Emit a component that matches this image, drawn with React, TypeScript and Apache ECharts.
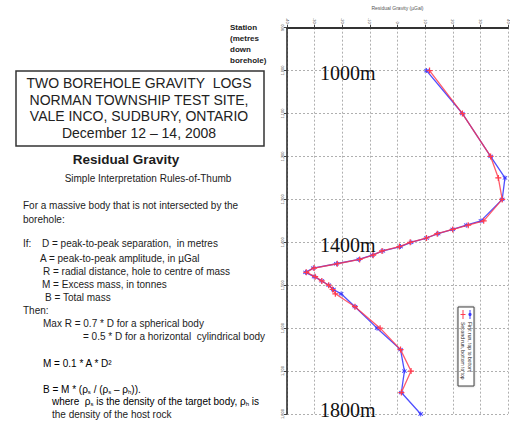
import React, { useEffect, useRef } from "react";
import * as echarts from "echarts";

// Borehole stations (metres down hole) and residual gravity readings (µGal)
const depths = [
  1000, 1100, 1200, 1250, 1300, 1350, 1360, 1370, 1380, 1390, 1400, 1410, 1420,
  1430, 1440, 1450, 1460, 1470, 1480, 1490, 1500, 1510, 1520, 1550, 1600, 1650,
  1700, 1750, 1800,
];
const firstRun = [
  10.5, 23.5, 33.7, 38.9, 37.9, 30.2, 24.9, 20.0, 14.7, 10.5, 4.9, 1.1, -5.3,
  -9.1, -14.0, -22.1, -30.5, -33.3, -30.2, -27.4, -24.9, -23.2, -20.4, -15.4,
  -7.4, 1.1, 2.5, 1.4, 8.4,
];
const secondRun: (number | null)[] = [
  11.6, 23.5, 33.7, 36.5, 37.9, 31.2, 25.6, 20.0, 14.4, 10.5, 4.6, 0.7, -5.6,
  -8.8, -13.7, -21.8, -30.2, -33.0, -29.8, -27.4, -24.9, -23.5, -22.5, -15.4,
  -6.3, 1.1, 4.9, 1.4, null,
];
const seriesNames = ["First run, top to bottom", "Second run, bottom to top"];

const depthMin = 900;
const depthMax = 1800;
const depthStep = 100;
const gravityMin = -40;
const gravityMax = 40;
const gravityStep = 10;

const depthMarks = ["1000m", "1400m", "1800m"];

const titleLines = [
  "TWO BOREHOLE GRAVITY  LOGS",
  "NORMAN TOWNSHIP TEST SITE,",
  "VALE INCO, SUDBURY, ONTARIO",
  "December 12 – 14, 2008",
];
const stationLabel = ["Station", "(metres", "down", "borehole)"];

const PLUS = "path://M4,0H6V4H10V6H6V10H4V6H0V4H4Z";
const STAR =
  "path://M4.2,0H5.8V3.4L8.6,1.2L9.6,2.4L6.8,5L9.6,7.6L8.6,8.8L5.8,6.6V10H4.2V6.6L1.4,8.8L0.4,7.6L3.2,5L0.4,2.4L1.4,1.2L4.2,3.4Z";

const SANS = '"Liberation Sans", Arial, sans-serif';
const SERIF = '"Liberation Serif", "Times New Roman", serif';
const INK = "#1c1c1c";

function bodyText(text: string, x: number, y: number, size = 10) {
  return {
    type: "text",
    x,
    y,
    silent: true,
    style: {
      text,
      fill: INK,
      font: `${size}px ${SANS}`,
      textAlign: "left",
      textVerticalAlign: "middle",
    },
  };
}

export default function App() {
  const ref = useRef<HTMLDivElement>(null);

  useEffect(() => {
    if (!ref.current) return;
    const chart = echarts.init(ref.current, null, { renderer: "svg" });

    const blueData = depths.map((d, i) => [firstRun[i], d]);
    const redData = depths
      .map((d, i) => [secondRun[i], d])
      .filter((p) => p[0] !== null);

    const titleGraphics = titleLines.map((t, i) => ({
      type: "text",
      x: 139,
      y: 83 + i * 16.7,
      silent: true,
      style: {
        text: t,
        fill: "#222",
        font: `14px ${SANS}`,
        textAlign: "center",
        textVerticalAlign: "middle",
      },
    }));

    const stationGraphics = stationLabel.map((t, i) => ({
      type: "text",
      x: 230,
      y: 27 + i * 11,
      silent: true,
      style: {
        text: t,
        fill: "#222",
        font: `bold 8px ${SANS}`,
        textAlign: "left",
        textVerticalAlign: "middle",
      },
    }));

    const markYs = [73, 245, 410];
    const depthGraphics = depthMarks.map((t, i) => ({
      type: "text",
      x: 320,
      y: markYs[i],
      silent: true,
      z: 100,
      style: {
        text: t,
        fill: "#111",
        font: `20px ${SERIF}`,
        textAlign: "left",
        textVerticalAlign: "middle",
      },
    }));

    const rich = {
      n: { fontSize: 10, fontFamily: SANS, color: INK },
      s: { fontSize: 6, fontFamily: SANS, color: INK, padding: [5, 0, 0, 0] },
    };

    const legendGraphic = {
      type: "group",
      z: 100,
      children: [
        {
          type: "rect",
          shape: { x: 458, y: 307, width: 16, height: 79 },
          style: { fill: "#fff", stroke: "#444", lineWidth: 1, shadowBlur: 2, shadowColor: "rgba(0,0,0,0.3)" },
        },
        {
          type: "line",
          shape: { x1: 463, y1: 310, x2: 463, y2: 319 },
          style: { stroke: "#ff3b4e", lineWidth: 1 },
        },
        {
          type: "line",
          shape: { x1: 460.5, y1: 314.5, x2: 465.5, y2: 314.5 },
          style: { stroke: "#ff3b4e", lineWidth: 1 },
        },
        {
          type: "line",
          shape: { x1: 470, y1: 310, x2: 470, y2: 319 },
          style: { stroke: "#3c3cff", lineWidth: 1 },
        },
        {
          type: "circle",
          shape: { cx: 470, cy: 314.5, r: 1.6 },
          style: { fill: "#3c3cff" },
        },
        {
          type: "text",
          x: 463,
          y: 322,
          rotation: -Math.PI / 2,
          style: {
            text: seriesNames[1],
            fill: "#222",
            font: `5px ${SANS}`,
            textAlign: "left",
            textVerticalAlign: "middle",
          },
        },
        {
          type: "text",
          x: 470,
          y: 322,
          rotation: -Math.PI / 2,
          style: {
            text: seriesNames[0],
            fill: "#222",
            font: `5px ${SANS}`,
            textAlign: "left",
            textVerticalAlign: "middle",
          },
        },
      ],
    };

    chart.setOption({
      animation: false,
      backgroundColor: "#fff",
      textStyle: { fontFamily: SANS },
      grid: { left: 287, top: 26, width: 228, height: 392 },
      xAxis: {
        type: "value",
        position: "top",
        min: gravityMin,
        max: gravityMax,
        interval: gravityStep,
        name: "Residual Gravity (µGal)",
        nameLocation: "middle",
        nameGap: 17,
        nameTextStyle: { fontSize: 5, color: "#555" },
        axisLine: { show: true, onZero: false, lineStyle: { color: "#333", width: 2 } },
        axisTick: { show: true, length: 3, lineStyle: { color: "#444" } },
        axisLabel: { fontSize: 4, rotate: 90, margin: 4, color: "#444" },
        splitLine: { show: true, lineStyle: { type: [2, 2], color: "#9a9a9a", width: 0.8 } },
      },
      yAxis: {
        type: "value",
        inverse: true,
        min: depthMin,
        max: depthMax,
        interval: depthStep,
        axisLine: { show: true, onZero: false, lineStyle: { color: "#222", width: 1.5 } },
        axisTick: { show: true, length: 3, lineStyle: { color: "#444" } },
        axisLabel: { fontSize: 4, rotate: 90, margin: 3, color: "#444" },
        splitLine: { show: true, lineStyle: { type: [2, 2], color: "#9a9a9a", width: 0.8 } },
      },
      series: [
        {
          type: "line",
          name: seriesNames[0],
          data: blueData,
          symbol: STAR,
          symbolSize: 5,
          itemStyle: { color: "#3c3cff" },
          lineStyle: { color: "rgba(60,60,255,0.9)", width: 1.3 },
          z: 2,
        },
        {
          type: "line",
          name: seriesNames[1],
          data: redData,
          symbol: PLUS,
          symbolSize: 6,
          itemStyle: { color: "#ff3b4e" },
          lineStyle: { color: "rgba(255,50,70,0.8)", width: 1.3 },
          z: 3,
        },
      ],
      graphic: [
        {
          type: "rect",
          silent: true,
          shape: { x: 16, y: 71, width: 248, height: 75 },
          style: { fill: "none", stroke: "#333", lineWidth: 1.5 },
        },
        ...titleGraphics,
        ...stationGraphics,
        ...depthGraphics,
        {
          type: "text",
          x: 126,
          y: 159,
          silent: true,
          style: {
            text: "Residual Gravity",
            fill: INK,
            font: `bold 13.5px ${SANS}`,
            textAlign: "center",
            textVerticalAlign: "middle",
          },
        },
        {
          type: "text",
          x: 148,
          y: 178,
          silent: true,
          style: {
            text: "Simple Interpretation Rules-of-Thumb",
            fill: INK,
            font: `10px ${SANS}`,
            textAlign: "center",
            textVerticalAlign: "middle",
          },
        },
        bodyText("For a massive body that is not intersected by the", 23, 205),
        bodyText("borehole:", 23, 219),
        bodyText("If:", 23, 243),
        bodyText("D = peak-to-peak separation,  in metres", 42, 243),
        bodyText("A = peak-to-peak amplitude, in µGal", 40, 258),
        bodyText("R = radial distance, hole to centre of mass", 43, 271),
        bodyText("M = Excess mass, in tonnes", 42, 284),
        bodyText("B = Total mass", 45, 297),
        bodyText("Then:", 23, 310),
        bodyText("Max R = 0.7 * D for a spherical body", 43, 323),
        bodyText("= 0.5 * D for a horizontal  cylindrical body", 83, 336),
        {
          type: "text",
          x: 43,
          y: 363,
          silent: true,
          style: {
            text: "{n|M = 0.1 * A * D²}",
            rich,
            textAlign: "left",
            textVerticalAlign: "middle",
          },
        },
        {
          type: "text",
          x: 43,
          y: 389,
          silent: true,
          style: {
            text: "{n|B = M * (ρ}{s|s}{n| / (ρ}{s|s}{n| – ρ}{s|h}{n|)).}",
            rich,
            textAlign: "left",
            textVerticalAlign: "middle",
          },
        },
        {
          type: "text",
          x: 52,
          y: 401,
          silent: true,
          style: {
            text: "{n|where  ρ}{s|s}{n| is the density of the target body, ρ}{s|h}{n| is}",
            rich,
            textAlign: "left",
            textVerticalAlign: "middle",
          },
        },
        bodyText("the density of the host rock", 52, 414),
        legendGraphic,
      ],
    });

    return () => chart.dispose();
  }, []);

  return (
    <div
      ref={ref}
      style={{ position: "fixed", left: 0, top: 0, width: 510, height: 422, background: "#fff" }}
    />
  );
}
